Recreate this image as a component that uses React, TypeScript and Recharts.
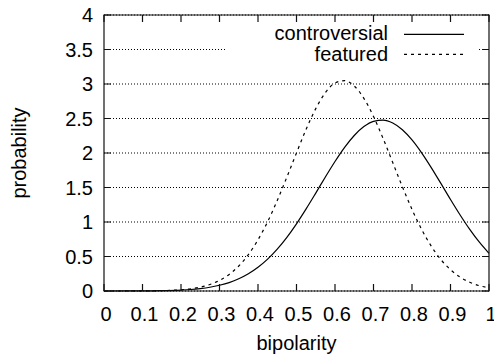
import { LineChart, Line, XAxis, YAxis, CartesianGrid } from "recharts"

const bipolarity = [
  0, 0.1, 0.15, 0.2, 0.225, 0.25, 0.275, 0.3, 0.325, 0.35, 0.375, 0.4, 0.425, 0.45, 0.475, 0.5,
  0.525, 0.55, 0.575, 0.6, 0.625, 0.65, 0.675, 0.7, 0.725, 0.75, 0.775, 0.8, 0.825, 0.85, 0.875,
  0.9, 0.925, 0.95, 0.975, 1,
]
const controversial = [
  0, 0.002, 0.005, 0.014, 0.022, 0.035, 0.054, 0.083, 0.122, 0.177, 0.25, 0.344, 0.462, 0.607,
  0.778, 0.974, 1.19, 1.419, 1.652, 1.877, 2.082, 2.254, 2.383, 2.459, 2.477, 2.435, 2.338, 2.19,
  2.003, 1.789, 1.559, 1.326, 1.102, 0.893, 0.707, 0.546,
]
const featured = [
  0, 0.001, 0.005, 0.018, 0.032, 0.056, 0.094, 0.153, 0.24, 0.362, 0.528, 0.742, 1.004, 1.311,
  1.65, 2.002, 2.343, 2.643, 2.875, 3.015, 3.048, 2.971, 2.792, 2.53, 2.21, 1.861, 1.511, 1.183,
  0.893, 0.65, 0.456, 0.309, 0.201, 0.127, 0.077, 0.045,
]
const xTicks = [0, 0.1, 0.2, 0.3, 0.4, 0.5, 0.6, 0.7, 0.8, 0.9, 1]
const yTicks = [0, 0.5, 1, 1.5, 2, 2.5, 3, 3.5, 4]
const X_MAX = 1
const Y_MAX = 4

const data = bipolarity.map((x, i) => ({
  x,
  controversial: controversial[i],
  featured: featured[i],
}))

const FONT = "'Liberation Sans', Arial, Helvetica, sans-serif"
const W = 494
const H = 358
const MARGIN = { top: 15, right: 5, bottom: 0, left: 0 }
const X_AXIS_H = 67
const Y_AXIS_W = 104
const PLOT_X = MARGIN.left + Y_AXIS_W
const PLOT_Y = MARGIN.top
const PLOT_W = W - MARGIN.left - MARGIN.right - Y_AXIS_W
const PLOT_H = H - MARGIN.top - MARGIN.bottom - X_AXIS_H
const TICK = 7
const FRAME_W = 1.2
const FRAME_INK = "#111"

type TickProps = { x: number; y: number; payload: { value: number } }

function BottomTick({ x, y, payload }: TickProps) {
  return (
    <text x={x + 2} y={y} dy="0.71em" textAnchor="middle" fontSize={20} fontFamily={FONT} fill="#000">
      {payload.value}
    </text>
  )
}

function LeftTick({ x, y, payload }: TickProps) {
  return (
    <text x={x} y={y} dy="0.355em" textAnchor="end" fontSize={20} fontFamily={FONT} fill="#000">
      {payload.value}
    </text>
  )
}

// gnuplot style border with inward ticks on all four sides
function Frame() {
  const bottom = PLOT_Y + PLOT_H
  const right = PLOT_X + PLOT_W
  const edges = `M${PLOT_X},${PLOT_Y}H${right}V${bottom}H${PLOT_X}Z`
  const ticks =
    xTicks
      .map((t) => {
        const px = PLOT_X + (t / X_MAX) * PLOT_W
        return `M${px},${bottom}v${-TICK}M${px},${PLOT_Y}v${TICK}`
      })
      .join("") +
    yTicks
      .map((t) => {
        const py = bottom - (t / Y_MAX) * PLOT_H
        return `M${PLOT_X},${py}h${TICK}M${right},${py}h${-TICK}`
      })
      .join("")
  return (
    <svg width={W} height={H} style={{ position: "absolute", left: 0, top: 0, pointerEvents: "none" }}>
      <path d={edges} fill="none" stroke={FRAME_INK} strokeWidth={FRAME_W} />
      <path d={ticks} fill="none" stroke={FRAME_INK} strokeWidth={FRAME_W} />
    </svg>
  )
}

function KeyBox() {
  return (
    <svg width={252} height={42} style={{ display: "block" }}>
      <text x={162} y={16} textAnchor="end" fontSize={20} fontFamily={FONT} fill="#000">
        controversial
      </text>
      <line x1={178} x2={238} y1={10.3} y2={10.3} stroke="#000" strokeWidth={1.2} />
      <text x={162} y={36.5} textAnchor="end" fontSize={20} fontFamily={FONT} fill="#000">
        featured
      </text>
      <line x1={178} x2={238} y1={30.3} y2={30.3} stroke="#000" strokeWidth={1.2} strokeDasharray="3 4" />
    </svg>
  )
}

const titleStyle = {
  position: "absolute" as const,
  fontFamily: FONT,
  fontSize: 20,
  lineHeight: "20px",
  whiteSpace: "nowrap" as const,
  color: "#000",
}

export default function App() {
  return (
    <div style={{ position: "absolute", left: 0, top: 0, width: W, height: H, background: "#fff" }}>
      <LineChart width={W} height={H} data={data} margin={MARGIN}>
        <CartesianGrid vertical={false} stroke="#000" strokeDasharray="1 2" horizontalValues={yTicks} />
        <XAxis
          dataKey="x"
          type="number"
          domain={[0, X_MAX]}
          ticks={xTicks}
          height={X_AXIS_H}
          axisLine={false}
          tickLine={false}
          tickSize={0}
          tickMargin={16}
          tick={BottomTick}
        />
        <YAxis
          type="number"
          domain={[0, Y_MAX]}
          ticks={yTicks}
          width={Y_AXIS_W}
          axisLine={false}
          tickLine={false}
          tickSize={0}
          tickMargin={11}
          tick={LeftTick}
        />
        <Line
          type="monotone"
          dataKey="controversial"
          stroke="#000"
          strokeWidth={1.2}
          dot={false}
          isAnimationActive={false}
        />
        <Line
          type="monotone"
          dataKey="featured"
          stroke="#000"
          strokeWidth={1.2}
          strokeDasharray="3 4"
          dot={false}
          isAnimationActive={false}
        />
      </LineChart>
      <Frame />
      <div style={{ position: "absolute", left: 226, top: 24, width: 252, height: 42, background: "#fff" }}>
        <KeyBox />
      </div>
      <div style={{ ...titleStyle, left: 296.5, top: 333, transform: "translateX(-50%)" }}>bipolarity</div>
      <div style={{ ...titleStyle, left: 19, top: 153, transform: "translate(-50%, -50%) rotate(-90deg)" }}>
        probability
      </div>
    </div>
  )
}
